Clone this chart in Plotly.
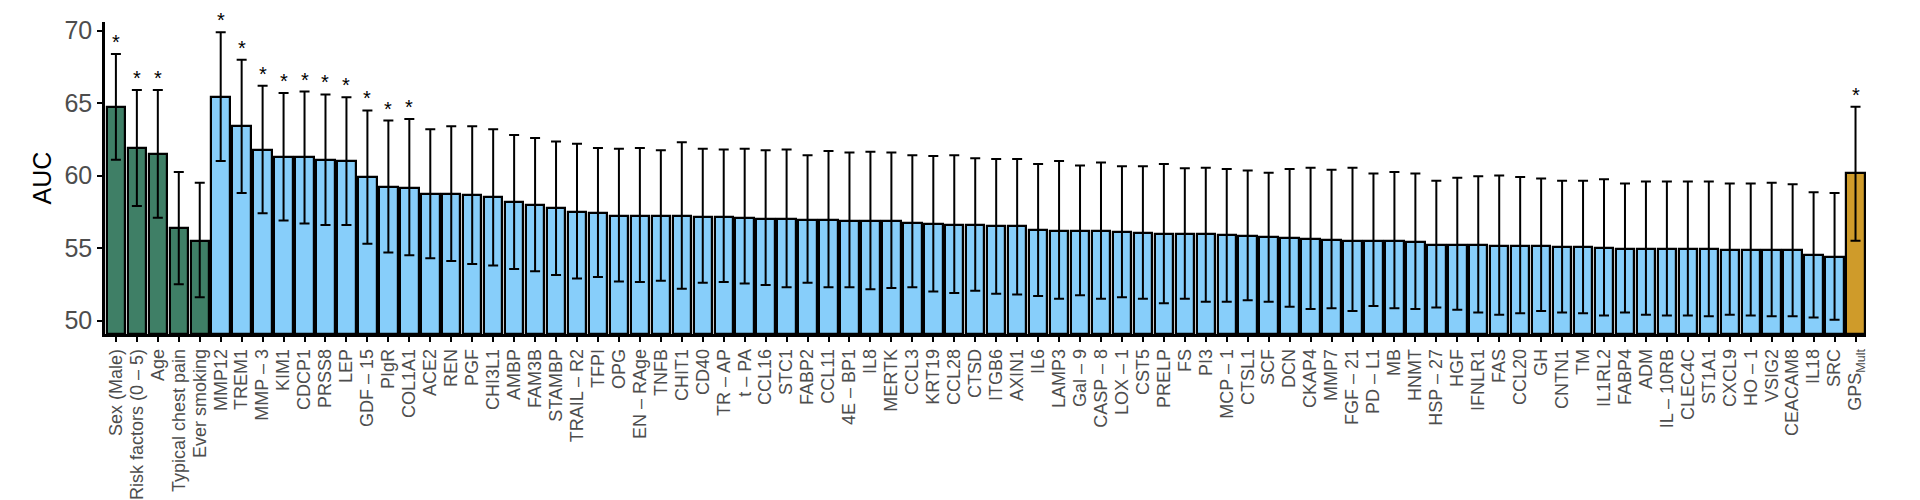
import plotly.graph_objects as go

labels = ["Sex (Male)", "Risk factors (0 – 5)", "Age", "Typical chest pain", "Ever smoking",
          "MMP12", "TREM1", "MMP – 3", "KIM1", "CDCP1", "PRSS8", "LEP", "GDF – 15", "PIgR", "COL1A1",
          "ACE2", "REN", "PGF", "CHI3L1", "AMBP", "FAM3B", "STAMBP", "TRAIL – R2", "TFPI", "OPG",
          "EN – RAge", "TNFB", "CHIT1", "CD40", "TR – AP", "t – PA", "CCL16", "STC1", "FABP2", "CCL11",
          "4E – BP1", "IL8", "MERTK", "CCL3", "KRT19", "CCL28", "CTSD", "ITGB6", "AXIN1", "IL6",
          "LAMP3", "Gal – 9", "CASP – 8", "LOX – 1", "CST5", "PRELP", "FS", "PI3", "MCP – 1", "CTSL1",
          "SCF", "DCN", "CKAP4", "MMP7", "FGF – 21", "PD – L1", "MB", "HNMT", "HSP – 27", "HGF",
          "IFNLR1", "FAS", "CCL20", "GH", "CNTN1", "TM", "IL1RL2", "FABP4", "ADM", "IL – 10RB",
          "CLEC4C", "ST1A1", "CXCL9", "HO – 1", "VSIG2", "CEACAM8", "IL18", "SRC", "GPS<sub>Mult</sub>"]

auc = [64.76, 61.94, 61.5, 56.4, 55.5,
       65.45, 63.4, 61.8, 61.3, 61.3, 61.1, 61.0, 59.9, 59.2, 59.15,
       58.75, 58.7, 58.65, 58.5, 58.2, 58.0, 57.75, 57.5, 57.45, 57.2,
       57.2, 57.2, 57.2, 57.15, 57.15, 57.1, 57.0, 57.0, 56.95, 56.95,
       56.9, 56.85, 56.85, 56.75, 56.65, 56.6, 56.6, 56.5, 56.5, 56.25,
       56.2, 56.15, 56.15, 56.1, 56.05, 56.0, 56.0, 55.95, 55.9, 55.85,
       55.75, 55.7, 55.6, 55.55, 55.5, 55.5, 55.5, 55.45, 55.2, 55.2,
       55.2, 55.15, 55.15, 55.15, 55.05, 55.05, 55.0, 54.95, 54.95, 54.95,
       54.95, 54.95, 54.9, 54.9, 54.85, 54.85, 54.5, 54.4, 60.15]

upper = [68.4, 65.9, 65.9, 60.25, 59.5,
         69.9, 68.0, 66.2, 65.7, 65.8, 65.6, 65.4, 64.5, 63.8, 63.9,
         63.2, 63.4, 63.4, 63.2, 62.8, 62.6, 62.35, 62.2, 61.9, 61.85,
         61.9, 61.75, 62.3, 61.85, 61.8, 61.85, 61.75, 61.8, 61.4, 61.7,
         61.6, 61.65, 61.6, 61.4, 61.35, 61.4, 61.2, 61.15, 61.15, 60.8,
         61.0, 60.7, 60.9, 60.65, 60.65, 60.8, 60.5, 60.55, 60.45, 60.35,
         60.2, 60.45, 60.55, 60.4, 60.55, 60.15, 60.25, 60.15, 59.65, 59.85,
         59.95, 60.0, 59.9, 59.8, 59.65, 59.65, 59.75, 59.45, 59.6, 59.6,
         59.6, 59.6, 59.45, 59.45, 59.5, 59.4, 58.85, 58.8, 64.75]

lower = [61.1, 57.9, 57.1, 52.5, 51.6,
         61.0, 58.8, 57.4, 56.9, 56.7, 56.6, 56.6, 55.3, 54.7, 54.5,
         54.3, 54.1, 53.9, 53.8, 53.55, 53.4, 53.15, 52.9, 53.0, 52.7,
         52.65, 52.75, 52.2, 52.6, 52.65, 52.55, 52.45, 52.3, 52.6, 52.3,
         52.3, 52.15, 52.25, 52.3, 52.0, 51.9, 52.05, 51.85, 51.8, 51.7,
         51.5, 51.75, 51.5, 51.6, 51.5, 51.2, 51.5, 51.3, 51.3, 51.4,
         51.3, 50.95, 50.8, 50.85, 50.65, 51.0, 50.85, 50.8, 50.9, 50.75,
         50.55, 50.4, 50.5, 50.65, 50.55, 50.5, 50.35, 50.55, 50.4, 50.35,
         50.35, 50.3, 50.4, 50.35, 50.3, 50.3, 50.2, 50.05, 55.5]

groups = ["clinical"] * 5 + ["protein"] * 78 + ["score"]
significant = ["Sex (Male)", "Risk factors (0 – 5)", "Age", "MMP12", "TREM1", "MMP – 3", "KIM1",
               "CDCP1", "PRSS8", "LEP", "GDF – 15", "PIgR", "COL1A1", "GPS<sub>Mult</sub>"]

groupColors = {"clinical": "#3F7F66", "protein": "#87CEFA", "score": "#CF9B2A"}
colors = [groupColors[g] for g in groups]
x = list(range(len(labels)))

fig = go.Figure()
fig.add_trace(go.Bar(
    x=x, y=[a - 49.07 for a in auc], base=49.07, width=0.88,
    marker=dict(color=colors, line=dict(color="black", width=2.2)),
    error_y=dict(type="data", symmetric=False,
                 array=[u - a for u, a in zip(upper, auc)],
                 arrayminus=[a - l for a, l in zip(auc, lower)],
                 color="black", thickness=2, width=5),
    showlegend=False))

for i, lab in enumerate(labels):
    if lab in significant:
        fig.add_annotation(x=i, y=upper[i], text="*", showarrow=False, yshift=12,
                           font=dict(size=20, color="black"))

fig.update_layout(
    width=1920, height=500, plot_bgcolor="white", paper_bgcolor="white",
    margin=dict(l=97, r=62, t=8, b=138),
    font=dict(family="Liberation Sans, Arial, sans-serif"),
    bargap=0,
)
fig.update_xaxes(range=[-0.52, len(labels) - 0.5], tickmode="array", tickvals=x, ticktext=labels,
                 tickangle=-90, tickfont=dict(size=18, color="#4d4d4d"),
                 showline=True, linecolor="black", linewidth=2.5,
                 ticks="outside", ticklen=5, tickcolor="black", tickwidth=1.5,
                 showgrid=False, zeroline=False)
fig.update_yaxes(range=[49.07, 70.6], tickvals=[50, 55, 60, 65, 70],
                 tickfont=dict(size=25, color="#4d4d4d"),
                 title=dict(text="AUC", font=dict(size=25, color="black"), standoff=6),
                 showline=True, linecolor="black", linewidth=2.5,
                 ticks="outside", ticklen=5, tickcolor="black", tickwidth=1.5,
                 showgrid=False, zeroline=False)

fig.write_html("out.html")
